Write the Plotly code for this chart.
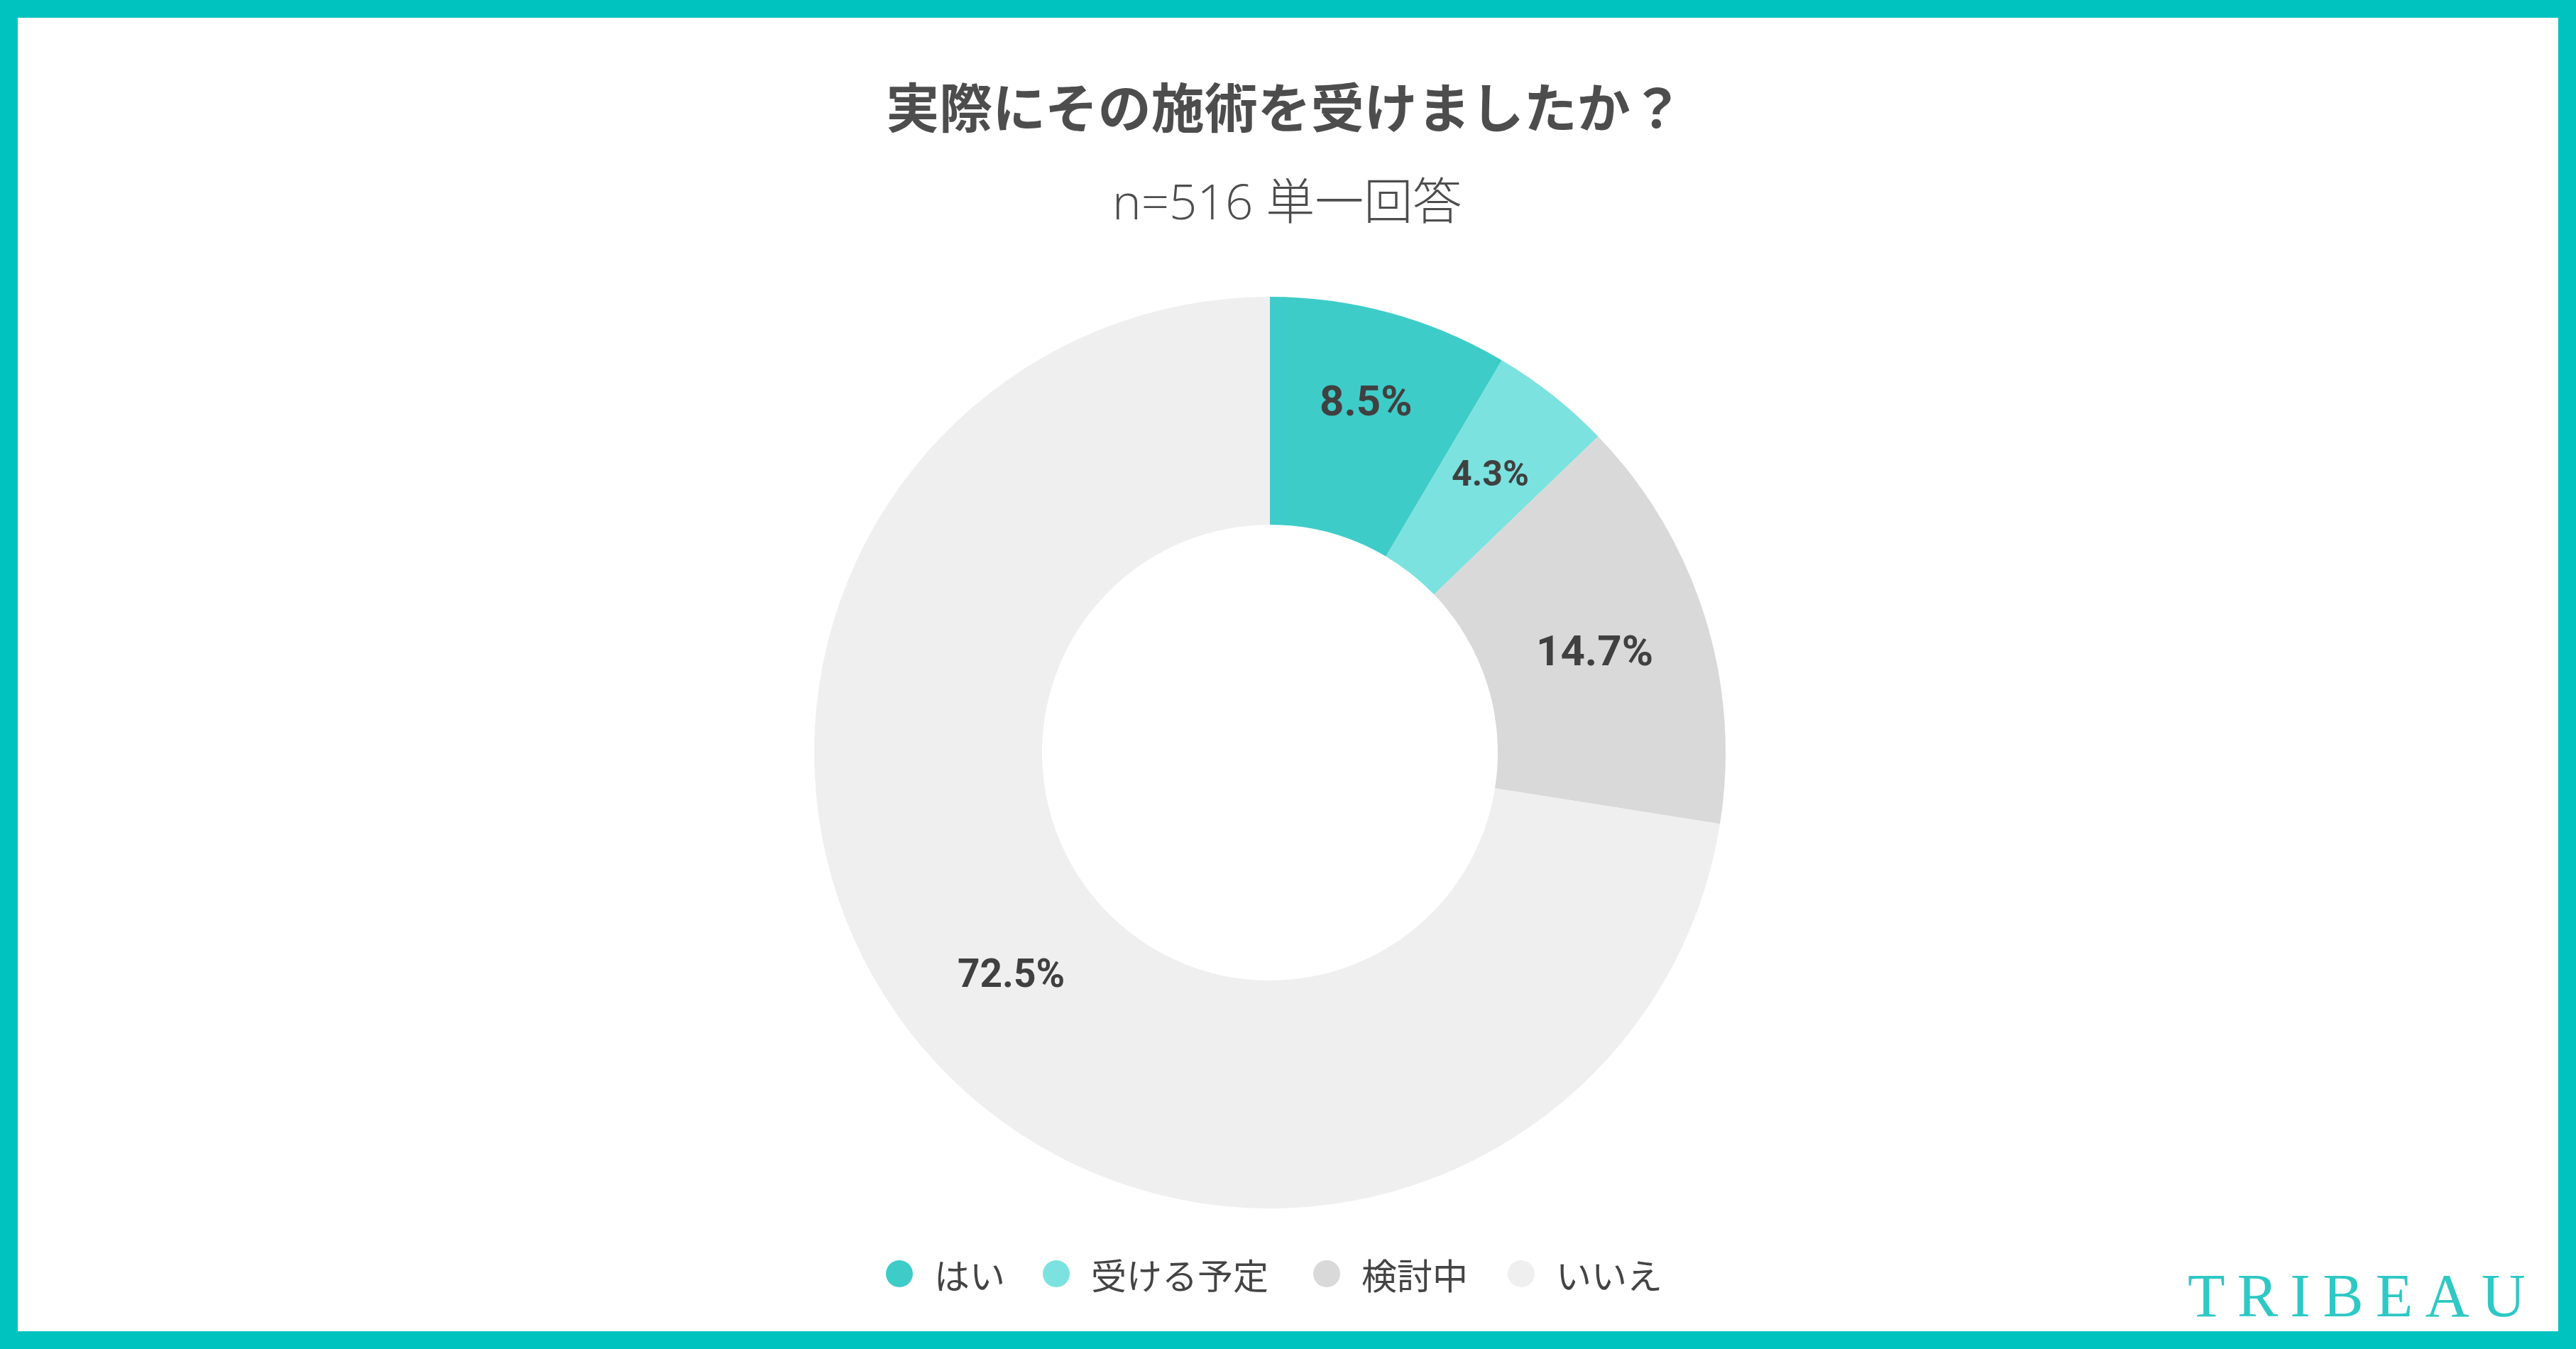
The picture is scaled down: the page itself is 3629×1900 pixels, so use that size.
import math
import plotly.graph_objects as go

# survey data
labels = ['はい', '受ける予定', '検討中', 'いいえ']
values = [8.5, 4.3, 14.7, 72.5]
colors = ['#3ECCC9', '#7BE2DF', '#D9D9D9', '#EFEFEF']

title_text = '実際にその施術を受けましたか？'
sub_text = 'n=516 単一回答'

# label styling: font size and radial position (fraction of outer radius)
label_sizes = [60, 50, 60, 55]
label_r = [0.80, 0.78, 0.747, 0.746]

W, H = 3629, 1900

# donut placement (px)
cx, cy, R = 1789, 1060, 642

fig = go.Figure()
fig.add_trace(go.Pie(labels=labels, values=values, hole=0.5, sort=False,
                     direction='clockwise', rotation=0,
                     marker=dict(colors=colors, line=dict(width=0)),
                     textinfo='none',
                     domain=dict(x=[(cx - R) / W, (cx + R) / W],
                                 y=[1 - (cy + R) / H, 1 - (cy - R) / H]),
                     hoverinfo='label+percent', showlegend=False))

annos = []
shapes = []

# percent labels at the middle angle of each slice
total = sum(values)
cum = 0
for i, v in enumerate(values):
    ang = 2 * math.pi * (cum + v / 2) / total
    cum += v
    rl = label_r[i] * R
    px = cx + rl * math.sin(ang)
    py = cy - rl * math.cos(ang)
    annos.append(dict(text='{:.1f}%'.format(v), x=px / W, y=1 - py / H,
                      xref='paper', yref='paper', xanchor='center',
                      yanchor='middle', showarrow=False,
                      font=dict(family='Roboto', size=label_sizes[i],
                                color='#404040', weight='bold')))

# custom legend with round markers
leg_x = [1267, 1488, 1869, 2143]
leg_y = 1 - 1794 / H
r = 19
for i, lab in enumerate(labels):
    lx = leg_x[i]
    shapes.append(dict(type='circle', xref='paper', yref='paper',
                       x0=(lx - r) / W, x1=(lx + r) / W,
                       y0=leg_y - r / H, y1=leg_y + r / H,
                       fillcolor=colors[i], line=dict(width=0)))
    annos.append(dict(text=lab, x=(lx + r + 28) / W, y=leg_y,
                      xref='paper', yref='paper', xanchor='left',
                      yanchor='middle', showarrow=False,
                      font=dict(family='Noto Sans CJK JP', size=50,
                                color='#444444')))

# frame
shapes.append(dict(type='rect', xref='paper', yref='paper', x0=0, x1=1,
                   y0=0, y1=1, line=dict(color='#00C2BF', width=50)))

annos.append(dict(text=sub_text, x=1813 / W, y=1 - 282 / H, xref='paper',
                  yref='paper', xanchor='center', yanchor='middle',
                  showarrow=False,
                  font=dict(family='Open Sans, Noto Sans CJK JP', size=69,
                            color='#4D4D4D', weight=300)))
annos.append(dict(text='\u2009'.join('TRIBEAU'), x=3560 / W,
                  y=1 - 1825 / H, xref='paper', yref='paper',
                  xanchor='right', yanchor='middle', showarrow=False,
                  font=dict(family='Liberation Serif', size=86,
                            color='#2EC8C5')))

fig.update_layout(width=W, height=H, paper_bgcolor='white',
                  margin=dict(l=0, r=0, t=0, b=0),
                  title=dict(text=title_text, x=1810 / W, y=1 - 154 / H,
                             xanchor='center', yanchor='middle',
                             font=dict(family='Noto Sans CJK JP', size=75,
                                       color='#4D4D4D', weight='bold')),
                  shapes=shapes, annotations=annos, showlegend=False)

fig.write_html('out.html', config={'displayModeBar': False},
               post_script="document.body.style.margin='0px';")
